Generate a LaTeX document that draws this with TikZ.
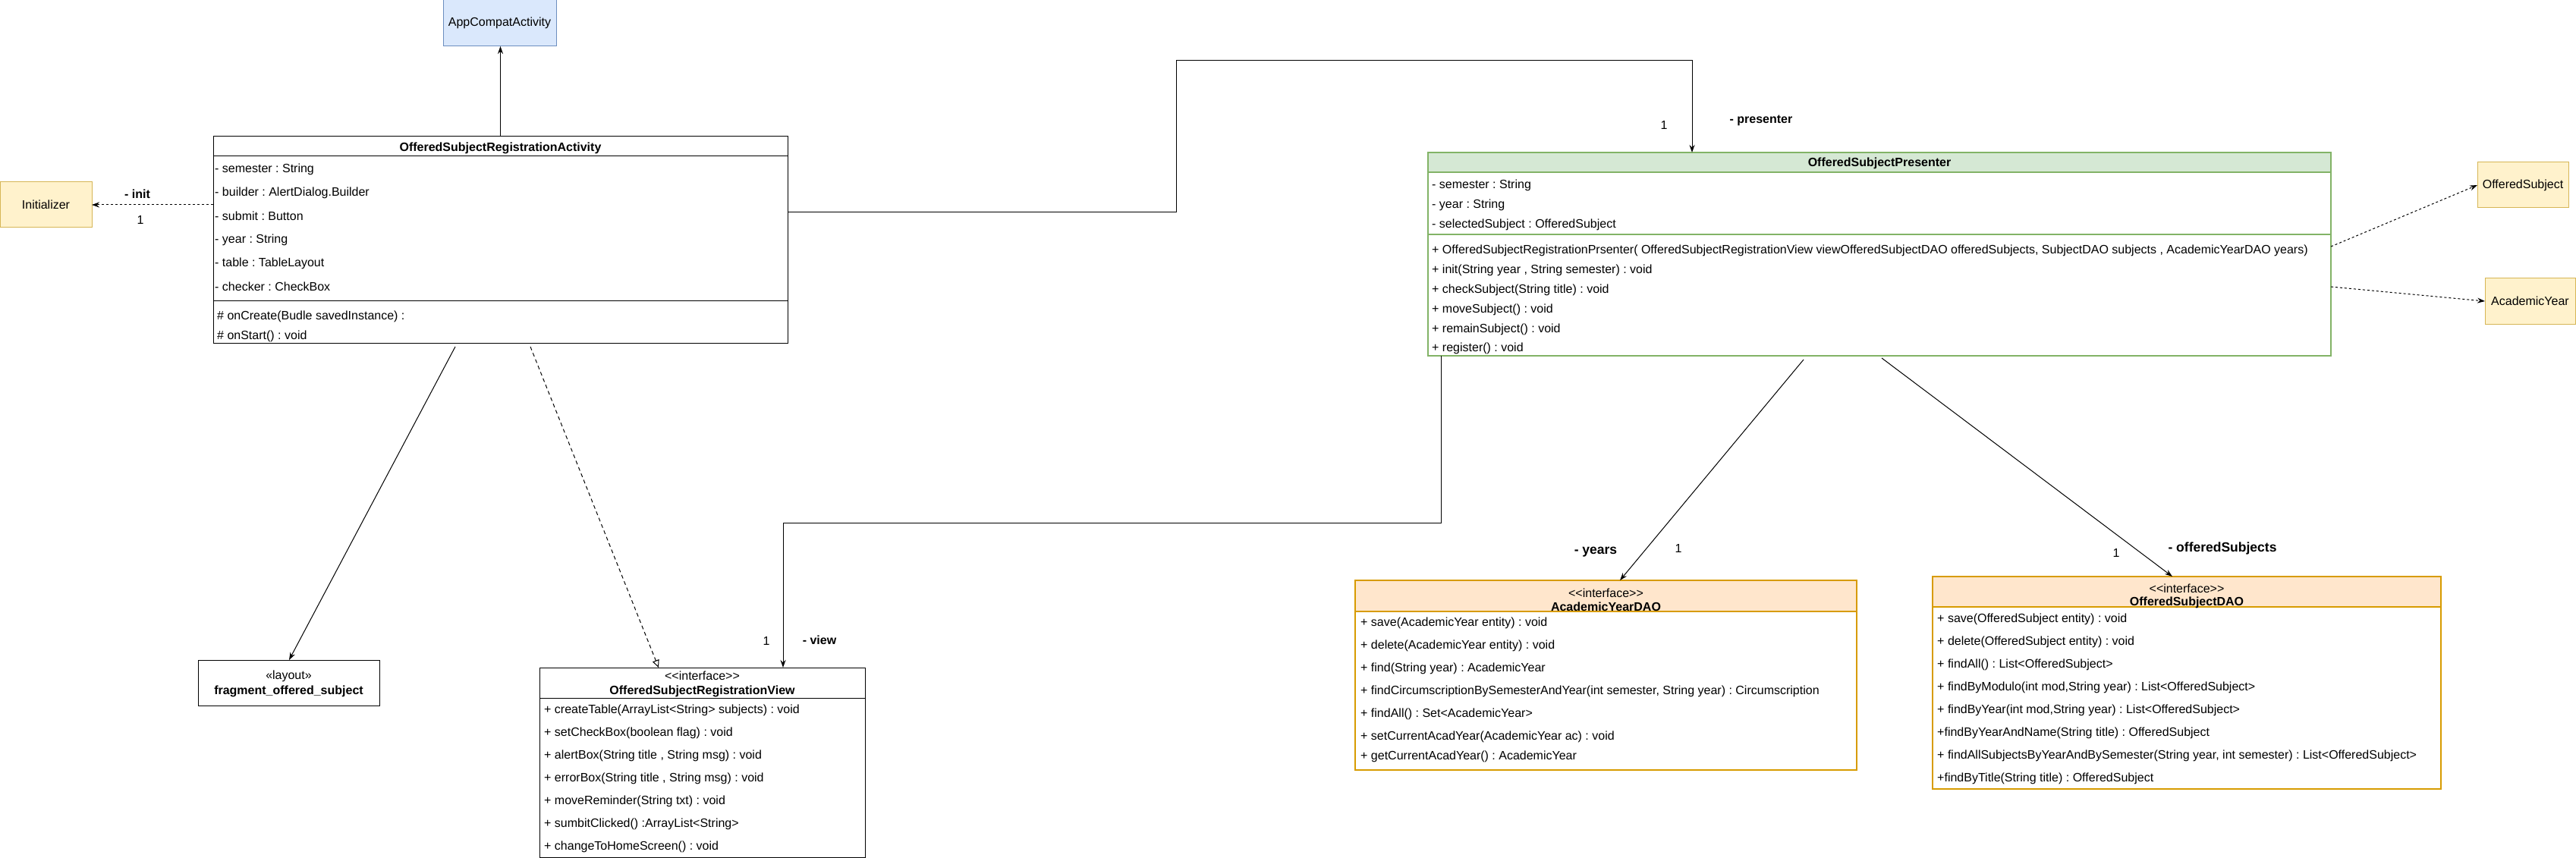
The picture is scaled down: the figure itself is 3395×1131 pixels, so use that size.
\documentclass[tikz,border=0pt]{standalone}
\usepackage{fontspec}
\newfontfamily\umlfont{Liberation Sans}
\usetikzlibrary{arrows.meta}
\definecolor{blueFill}{HTML}{DAE8FC}
\definecolor{blueLine}{HTML}{6C8EBF}
\definecolor{yellowFill}{HTML}{FFF2CC}
\definecolor{yellowLine}{HTML}{D6B656}
\definecolor{greenFill}{HTML}{D5E8D4}
\definecolor{greenLine}{HTML}{82B366}
\definecolor{orangeFill}{HTML}{FFE6CC}
\definecolor{orangeLine}{HTML}{D79B00}
\newcommand\rowfont{\umlfont\fontsize{16}{18}\selectfont}
\newcommand\lblfont{\umlfont\fontsize{16}{19}\selectfont}
\frenchspacing
\tikzset{
  box/.style={draw, line width=1pt, anchor=north west, inner sep=0pt, outer sep=0pt},
  row/.style={anchor=west, inner sep=0pt, font=\rowfont},
  title/.style={inner sep=0pt, font=\rowfont\bfseries},
  stereo/.style={inner sep=0pt, font=\rowfont},
  lbl/.style={inner sep=0pt, font=\lblfont\bfseries},
  mult/.style={inner sep=0pt, font=\lblfont},
  conn/.style={line width=1pt, -{Stealth[length=10pt,width=7pt]}},
  dep/.style={conn, dash pattern=on 3pt off 3pt},
  real/.style={line width=1pt, dash pattern=on 5pt off 4pt, -{Triangle[open,length=10pt,width=9pt]}}
}
\begin{document}
\begin{tikzpicture}[x=1pt, y=-1pt]
  \useasboundingbox (0,0) rectangle (3395,1131);

  % small boxes
  \node[box, draw=blueLine, fill=blueFill, minimum width=149pt, minimum height=61pt] (appc) at (584,0) {};
  \node[stereo] (appcName) at (appc.center) {AppCompatActivity};
  \node[box, draw=yellowLine, fill=yellowFill, minimum width=121pt, minimum height=60pt] (init) at (0,240) {};
  \node[stereo] (initName) at (init.center) {Initializer};
  \node[box, draw=yellowLine, fill=yellowFill, minimum width=120pt, minimum height=60pt] (offs) at (3265,214) {};
  \node[stereo] (offsName) at (offs.center) {OfferedSubject};
  \node[box, draw=yellowLine, fill=yellowFill, minimum width=119pt, minimum height=60pt] (acy) at (3275,367) {};
  \node[stereo] (acyName) at (acy.center) {AcademicYear};

  % OfferedSubjectRegistrationActivity
  \node[box, minimum width=757pt, minimum height=272pt] (act) at (281,180) {};
  \draw[line width=1pt] (281,206) -- (1038,206);
  \draw[line width=1pt] (281,397) -- (1038,397);
  \node[title] (actName) at (659.5,195) {OfferedSubjectRegistrationActivity};
  \foreach [count=\i] \y/\t in {223/{- semester : String}, 254/{- builder : AlertDialog.Builder},
      285/{- submit : Button}, 316/{- year : String}, 347/{- table : TableLayout},
      378/{- checker : CheckBox}}
    \node[row] (actA\i) at (283,\y) {\t};
  \node[row] (actM1) at (286,417) {\# onCreate(Budle savedInstance) :};
  \node[row] (actM2) at (286,443) {\# onStart() : void};

  % OfferedSubjectPresenter
  \node[box, draw=greenLine, minimum width=1190pt, minimum height=268pt] (pres) at (1882,201) {};
  \fill[greenFill] (1882,201) rectangle (3072,227);
  \draw[greenLine, line width=1.3pt] (1882,201) rectangle (3072,469);
  \draw[greenLine, line width=1.3pt] (1882,227) -- (3072,227);
  \draw[greenLine, line width=1.3pt] (1882,309) -- (3072,309);
  \node[title] (presName) at (2477,215) {OfferedSubjectPresenter};
  \foreach [count=\i] \y/\t in {244/{- semester : String}, 270/{- year : String},
      296/{- selectedSubject : OfferedSubject}}
    \node[row] (presA\i) at (1887,\y) {\t};
  \foreach [count=\i] \y/\t in {330/{+ OfferedSubjectRegistrationPrsenter( OfferedSubjectRegistrationView viewOfferedSubjectDAO offeredSubjects, SubjectDAO subjects , AcademicYearDAO years)},
      356/{+ init(String year , String semester) : void}, 382/{+ checkSubject(String title) : void},
      408/{+ moveSubject() : void}, 434/{+ remainSubject() : void}, 459/{+ register() : void}}
    \node[row] (presM\i) at (1887,\y) {\t};

  % layout
  \node[box, minimum width=239pt, minimum height=60pt] (frag) at (261,870) {};
  \node[stereo] (fragSt) at (380.5,891) {«layout»};
  \node[title] (fragName) at (380.5,911) {fragment\_offered\_subject};

  % OfferedSubjectRegistrationView
  \node[box, minimum width=429pt, minimum height=250pt] (view) at (711,880) {};
  \draw[line width=1pt] (711,920) -- (1140,920);
  \node[stereo] (viewSt) at (925.5,891) {<<interface>>};
  \node[title] (viewName) at (925.5,911) {OfferedSubjectRegistrationView};
  \foreach [count=\i] \y/\t in {936/{+ createTable(ArrayList<String> subjects) : void},
      966/{+ setCheckBox(boolean flag) : void}, 996/{+ alertBox(String title , String msg) : void},
      1026/{+ errorBox(String title , String msg) : void}, 1056/{+ moveReminder(String txt) : void},
      1086/{+ sumbitClicked() :ArrayList<String>}, 1116/{+ changeToHomeScreen() : void}}
    \node[row] (viewM\i) at (717,\y) {\t};

  % AcademicYearDAO
  \node[box, draw=orangeLine, minimum width=661pt, minimum height=250pt] (aydao) at (1786,765) {};
  \fill[orangeFill] (1786,765) rectangle (2447,806);
  \draw[orangeLine, line width=1.3pt] (1786,765) rectangle (2447,1015);
  \draw[orangeLine, line width=1.3pt] (1786,806) -- (2447,806);
  \node[stereo] (aydaoSt) at (2116.5,782) {<<interface>>};
  \node[title] (aydaoName) at (2116.5,800) {AcademicYearDAO};
  \foreach [count=\i] \y/\t in {821/{+ save(AcademicYear entity) : void}, 851/{+ delete(AcademicYear entity) : void},
      881/{+ find(String year) : AcademicYear},
      911/{+ findCircumscriptionBySemesterAndYear(int semester, String year) : Circumscription},
      941/{+ findAll() : Set<AcademicYear>}, 971/{+ setCurrentAcadYear(AcademicYear ac) : void},
      997/{+ getCurrentAcadYear() : AcademicYear}}
    \node[row] (aydaoM\i) at (1793,\y) {\t};

  % OfferedSubjectDAO
  \node[box, draw=orangeLine, minimum width=670pt, minimum height=280pt] (osdao) at (2547,760) {};
  \fill[orangeFill] (2547,760) rectangle (3217,800);
  \draw[orangeLine, line width=1.3pt] (2547,760) rectangle (3217,1040);
  \draw[orangeLine, line width=1.3pt] (2547,800) -- (3217,800);
  \node[stereo] (osdaoSt) at (2882,776) {<<interface>>};
  \node[title] (osdaoName) at (2882,794) {OfferedSubjectDAO};
  \foreach [count=\i] \y/\t in {816/{+ save(OfferedSubject entity) : void}, 846/{+ delete(OfferedSubject entity) : void},
      876/{+ findAll() : List<OfferedSubject>}, 906/{+ findByModulo(int mod,String year) : List<OfferedSubject>},
      936/{+ findByYear(int mod,String year) : List<OfferedSubject>}, 966/{+findByYearAndName(String title) : OfferedSubject},
      996/{+ findAllSubjectsByYearAndBySemester(String year, int semester) : List<OfferedSubject>},
      1026/{+findByTitle(String title) : OfferedSubject}}
    \node[row] (osdaoM\i) at (2553,\y) {\t};

  % connectors
  \draw[conn] (act.north) -- (act.north |- appc.south);
  \draw[dep] (act.west |- init.east) -- (init.east);
  \draw[conn] ([yshift=-100pt]act.north east) -| (1550,80) -| ([xshift=348pt]pres.north west);
  \draw[conn] ([xshift=17pt]pres.south west) |- (1032,689) -- ([xshift=321pt]view.north west);
  \draw[conn] ([xshift=495pt,yshift=-5pt]pres.south west) -- ([xshift=349pt]aydao.north west);
  \draw[conn] ([xshift=598pt,yshift=-3pt]pres.south west) -- ([xshift=316pt]osdao.north west);
  \draw[conn] ([xshift=319pt,yshift=-5pt]act.south west) -- ([xshift=120pt]frag.north west);
  \draw[real] ([xshift=418pt,yshift=-5pt]act.south west) -- ([xshift=157pt]view.north west);
  \draw[dep] ([yshift=-124pt]pres.north east) -- (offs.west);
  \draw[dep] ([yshift=-177pt]pres.north east) -- (acy.west);

  % role names and multiplicities
  \node[lbl] (initRole) at (181,256) {- init};
  \node[mult] (initMult) at (185,290) {1};
  \node[mult] (presMult) at (2193,165) {1};
  \node[lbl] (presRole) at (2321,159) {- presenter};
  \node[mult] (viewMult) at (1010,845) {1};
  \node[lbl] (viewRole) at (1080,844) {- view};
  \node[lbl, font=\umlfont\fontsize{17.5}{20}\selectfont\bfseries] (yearsRole) at (2103,728) {- years};
  \node[mult] (yearsMult) at (2212,723) {1};
  \node[mult] (osMult) at (2789,729) {1};
  \node[lbl, font=\umlfont\fontsize{17.5}{20}\selectfont\bfseries] (osRole) at (2929,723) {- offeredSubjects};
\end{tikzpicture}
\end{document}
